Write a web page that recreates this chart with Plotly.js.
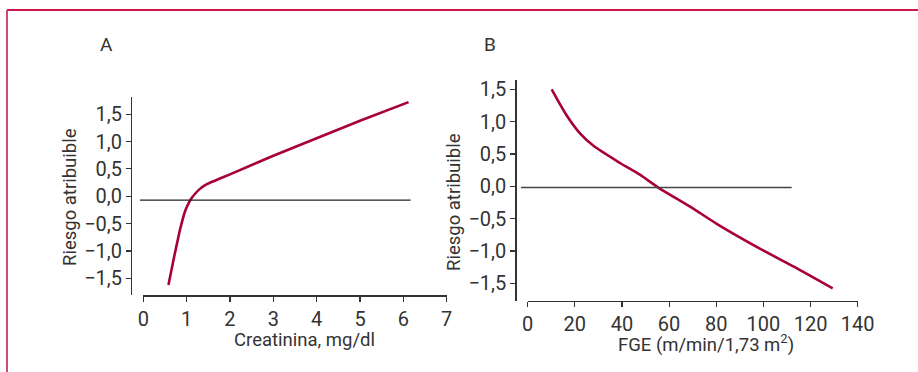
<!DOCTYPE html>
<html>
<head>
<meta charset="utf-8">
<script src="https://cdn.plot.ly/plotly-3.0.1.min.js"></script>
<style>html,body{margin:0;padding:0;background:#fff;}#chart{width:918px;height:372px;}</style>
</head>
<body>
<div id="chart"></div>
<script>
// Panel A: Creatinina (mg/dl) vs riesgo atribuible
var creatinina = [0.58, 0.70, 0.85, 0.97, 1.05, 1.10, 1.20, 1.30, 1.40, 1.55, 1.70, 2.00, 3.00, 4.00, 5.00, 6.12];
var riesgoA    = [-1.62, -1.15, -0.60, -0.26, -0.12, -0.05, 0.05, 0.13, 0.19, 0.25, 0.30, 0.40, 0.74, 1.06, 1.38, 1.72];
// Panel B: FGE (ml/min/1,73 m2) vs riesgo atribuible
var fge     = [10.2, 16.5, 22.2, 27.8, 39.2, 47.6, 55.4, 68.9, 80.2, 98.3, 112.7, 129.4];
var riesgoB = [1.50, 1.10, 0.82, 0.63, 0.36, 0.18, -0.02, -0.315, -0.58, -0.96, -1.24, -1.58];
// Reference (zero) lines
var refA_y = -0.07;
var refB_y = -0.02;
var ticksA_x = [0, 1, 2, 3, 4, 5, 6, 7];
var ticksB_x = [0, 20, 40, 60, 80, 100, 120, 140];
var ticks_y = [-1.5, -1.0, -0.5, 0, 0.5, 1.0, 1.5];

var FONT = 'Roboto, "Liberation Sans", sans-serif';
var TXT = '#333333';
var CURVE = '#a8003c';

var traces = [
  {x: creatinina, y: riesgoA, xaxis: 'x', yaxis: 'y', mode: 'lines', line: {color: CURVE, width: 2.6, shape: 'spline', smoothing: 0.3}, hoverinfo: 'skip'},
  {x: fge, y: riesgoB, xaxis: 'x2', yaxis: 'y2', mode: 'lines', line: {color: CURVE, width: 2.6, shape: 'spline', smoothing: 0.8}, hoverinfo: 'skip'}
];

var axCommon = {
  showgrid: false, zeroline: false, showline: true, linecolor: '#333', linewidth: 1.5,
  ticks: 'outside', ticklen: 5, tickwidth: 1.2, tickcolor: '#333',
  tickfont: {family: FONT, size: 20, color: TXT}, fixedrange: true
};

var layout = {
  width: 918, height: 372,
  margin: {l: 0, r: 0, t: 0, b: 0},
  paper_bgcolor: '#fff', plot_bgcolor: '#fff',
  showlegend: false,
  separators: ',.',
  xaxis: Object.assign({}, axCommon, {domain: [0.1561, 0.4866], range: [0, 7], anchor: 'y', tickvals: ticksA_x}),
  yaxis: Object.assign({}, axCommon, {domain: [0.2062, 0.7392], range: [-1.81, 1.813], anchor: 'free', position: 0.1427, tickvals: ticks_y, tickformat: '.1f'}),
  xaxis2: Object.assign({}, axCommon, {domain: [0.5748, 0.9343], range: [0, 140], anchor: 'y2', tickvals: ticksB_x}),
  yaxis2: Object.assign({}, axCommon, {domain: [0.1917, 0.7849], range: [-1.77, 1.644], anchor: 'free', position: 0.5613, tickvals: ticks_y, tickformat: '.1f'}),
  shapes: [
    // red frame
    {type: 'line', xref: 'paper', yref: 'paper', x0: 0.0076, x1: 1, y0: 0.9731, y1: 0.9731, line: {color: '#d0164c', width: 2}},
    {type: 'line', xref: 'paper', yref: 'paper', x0: 0.0076, x1: 0.0076, y0: 0, y1: 0.9731, line: {color: '#d0467a', width: 2}},
    // reference lines
    {type: 'line', xref: 'x domain', yref: 'y', x0: -0.011, x1: 0.881, y0: refA_y, y1: refA_y, line: {color: '#222', width: 1.2}},
    {type: 'line', xref: 'x2 domain', yref: 'y2', x0: -0.020, x1: 0.80, y0: refB_y, y1: refB_y, line: {color: '#444', width: 1.5}}
  ],
  annotations: [
    {text: 'A', xref: 'paper', yref: 'paper', x: 106 / 918, y: 1 - 44 / 372, showarrow: false, xanchor: 'center', yanchor: 'middle', font: {family: FONT, size: 19, color: TXT}},
    {text: 'B', xref: 'paper', yref: 'paper', x: 490 / 918, y: 1 - 44 / 372, showarrow: false, xanchor: 'center', yanchor: 'middle', font: {family: FONT, size: 19, color: TXT}},
    {text: 'Creatinina, mg/dl', xref: 'paper', yref: 'paper', x: 304 / 918, y: 1 - 340 / 372, showarrow: false, xanchor: 'center', yanchor: 'middle', font: {family: FONT, size: 18.5, color: TXT}},
    {text: 'FGE (m/min/1,73 m<sup>2</sup>)', xref: 'paper', yref: 'paper', x: 706 / 918, y: 1 - 343 / 372, showarrow: false, xanchor: 'center', yanchor: 'middle', font: {family: FONT, size: 18.5, color: TXT}},
    {text: 'Riesgo atribuible', xref: 'paper', yref: 'paper', x: 70 / 918, y: 1 - 197 / 372, showarrow: false, textangle: -90, xanchor: 'center', yanchor: 'middle', font: {family: FONT, size: 18.5, color: TXT}},
    {text: 'Riesgo atribuible', xref: 'paper', yref: 'paper', x: 454 / 918, y: 1 - 202 / 372, showarrow: false, textangle: -90, xanchor: 'center', yanchor: 'middle', font: {family: FONT, size: 18.5, color: TXT}}
  ]
};

Plotly.newPlot('chart', traces, layout, {staticPlot: true, displayModeBar: false});
</script>
</body>
</html>
